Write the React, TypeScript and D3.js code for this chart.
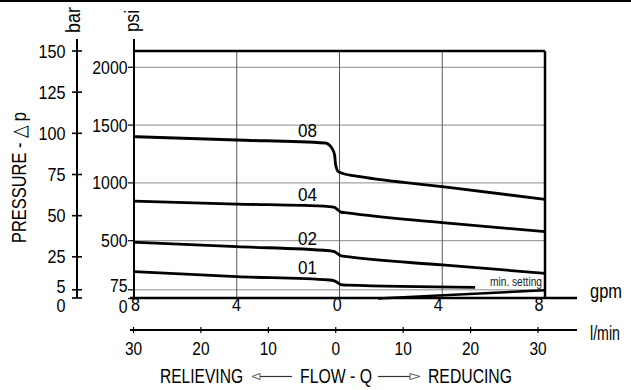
import React from "react";
import * as d3 from "d3";

const W = 631;
const H = 390;

const barTicks = [150, 125, 100, 75, 50, 25, 5, 0];
const psiTicks = [2000, 1500, 1000, 500, 75, 0];
const psiGrid = [2000, 1500, 1000, 500, 75];
const gpmTicks = [-8, -4, 0, 4, 8];
const gpmGrid = [-4, 0, 4];
const lpmTicks = [-30, -20, -10, 0, 10, 20, 30];

const seriesNames = ["08", "04", "02", "01"];
const curve08: [number, number][] = [
  [-8, 1400], [-4, 1371], [-0.56, 1345], [-0.3, 1302], [-0.19, 1241], [-0.16, 1172],
  [-0.12, 1129], [-0.06, 1099], [0.14, 1081], [0.8, 1054], [4, 967], [8, 858],
];
const curve04: [number, number][] = [
  [-8, 842], [-4, 817], [-0.4, 795], [-0.2, 788], [-0.08, 770], [0.05, 748], [0.3, 740],
  [4, 656], [8, 578],
];
const curve02: [number, number][] = [
  [-8, 486], [-4, 448], [-0.4, 413], [-0.2, 405], [-0.08, 388], [0.05, 370], [0.3, 362],
  [4, 290], [8, 218],
];
const curve01: [number, number][] = [
  [-8, 232], [-4, 189], [-0.4, 160], [-0.2, 153], [-0.08, 138], [0.05, 120], [0.3, 115],
  [5.28, 97],
];
const minSetting: [number, number][] = [[1.5, 0], [8, 72]];
const seriesData = [curve08, curve04, curve02, curve01];
const labelGpm = -1.25;

const FONT = "'Liberation Sans', Arial, sans-serif";

const xScale = d3.scaleLinear().domain([-8, 8]).range([134, 545]);
const xLabel = d3.scaleLinear().domain([-8, 8]).range([135.5, 539]);
const lpmScale = d3.scaleLinear().domain([-30, 30]).range([133.5, 538]);
const psiScale = d3.scaleLinear().domain([0, 2000]).range([298.5, 67.3]);
const barScale = d3.scaleLinear().domain([0, 150]).range([298, 51]);

function interp(pts: [number, number][], g: number) {
  for (let i = 0; i < pts.length - 1; i++) {
    const [x0, y0] = pts[i];
    const [x1, y1] = pts[i + 1];
    if (g >= x0 && g <= x1) return y0 + ((g - x0) / (x1 - x0)) * (y1 - y0);
  }
  return pts[pts.length - 1][1];
}

function T(props: {
  x: number; y: number; s: string; size?: number; w?: number; anchor?: string; fill?: string;
}) {
  const { x, y, s, size = 18.5, w, anchor = "middle", fill = "#000" } = props;
  return (
    <text
      x={x}
      y={y}
      fontSize={size}
      fontFamily={FONT}
      textAnchor={anchor}
      fill={fill}
      textLength={w}
      lengthAdjust={w ? "spacingAndGlyphs" : undefined}
    >
      {s}
    </text>
  );
}

function RT(props: { x: number; y: number; s: string; size?: number; w?: number }) {
  const { x, y, s, size = 20, w } = props;
  return (
    <g transform={`translate(${x},${y}) rotate(-90)`}>
      <text
        x={0}
        y={0}
        fontSize={size}
        fontFamily={FONT}
        textAnchor="middle"
        fill="#000"
        textLength={w}
        lengthAdjust={w ? "spacingAndGlyphs" : undefined}
      >
        {s}
      </text>
    </g>
  );
}

export default function App() {
  const line = d3
    .line<[number, number]>()
    .x((d) => xScale(d[0]))
    .y((d) => psiScale(d[1]))
    .curve(d3.curveMonotoneX);
  const straight = d3
    .line<[number, number]>()
    .x((d) => xScale(d[0]))
    .y((d) => psiScale(d[1]));

  const barLabelDy = (v: number) => (v === 0 ? 14 : v === 5 ? 3 : 6.5);
  const psiLabelDy = (v: number) => (v === 0 ? 14 : v === 75 ? 2 : 6.5);

  const x0 = xScale(-8);
  const x1 = xScale(8);
  const yTop = barScale(150);
  const yBot = barScale(0);
  const arrowY = 376.5;

  return (
    <svg
      width={W}
      height={H}
      viewBox={`0 0 ${W} ${H}`}
      style={{ position: "absolute", left: 0, top: 0, background: "#fff" }}
    >
      <rect x={0} y={0} width={W} height={H} fill="#fff" />
      <line x1={0} x2={W} y1={1} y2={1} stroke="#000" strokeWidth={2} />

      {/* grid */}
      {psiGrid.map((v) => (
        <line key={"hg" + v} x1={x0} x2={x1} y1={psiScale(v)} y2={psiScale(v)} stroke="#8a8a8a" strokeWidth={1} />
      ))}
      {gpmGrid.map((v) => (
        <line key={"vg" + v} x1={xScale(v)} x2={xScale(v)} y1={yTop} y2={yBot} stroke="#555" strokeWidth={1} />
      ))}

      {/* frame */}
      <line x1={x0} x2={x1} y1={yTop} y2={yTop} stroke="#000" strokeWidth={2.5} />
      <line x1={x1} x2={x1} y1={yTop} y2={yBot} stroke="#000" strokeWidth={2.5} />
      <line x1={x0} x2={x0} y1={39} y2={yBot} stroke="#000" strokeWidth={2} />
      <line x1={130} x2={577} y1={yBot} y2={yBot} stroke="#000" strokeWidth={2.5} />

      {/* psi axis */}
      {psiTicks.map((v) => (
        <g key={"pt" + v}>
          <line x1={x0 - 6} x2={x0} y1={psiScale(v)} y2={psiScale(v)} stroke="#000" strokeWidth={1.2} />
          <T x={127.5} y={psiScale(v) + psiLabelDy(v)} s={String(v)} anchor="end" w={String(v).length * 8.8} />
        </g>
      ))}
      <RT x={139} y={21} s="psi" w={22} />

      {/* bar axis */}
      <line x1={77} x2={77} y1={39} y2={yBot} stroke="#000" strokeWidth={2} />
      {barTicks.map((v) => (
        <g key={"bt" + v}>
          <line x1={72} x2={82} y1={barScale(v)} y2={barScale(v)} stroke="#000" strokeWidth={1.6} />
          <T x={65.5} y={barScale(v) + barLabelDy(v)} s={String(v)} anchor="end" w={String(v).length * 9} />
        </g>
      ))}
      <RT x={80} y={20} s="bar" w={26} />
      <RT x={25.5} y={177.5} s="PRESSURE - △ p" w={131} />

      {/* curves */}
      {seriesData.map((pts, i) => (
        <path key={"c" + i} d={line(pts) || ""} fill="none" stroke="#000" strokeWidth={2.8} strokeLinejoin="round" />
      ))}
      <path d={straight(minSetting) || ""} fill="none" stroke="#000" strokeWidth={2.5} />
      {seriesData.map((pts, i) => (
        <T
          key={"l" + i}
          x={xScale(labelGpm)}
          y={psiScale(interp(pts, labelGpm)) - 5}
          s={seriesNames[i]}
          w={19}
        />
      ))}
      <T x={542} y={286} s="min. setting" size={12} anchor="end" w={52} fill="#222" />

      {/* gpm labels */}
      {gpmTicks.map((v) => (
        <T key={"g" + v} x={xLabel(v)} y={311} s={String(Math.abs(v))} w={9} />
      ))}
      <T x={590} y={298} s="gpm" size={20} anchor="start" w={32} />

      {/* l/min axis */}
      <line x1={130} x2={577} y1={330} y2={330} stroke="#000" strokeWidth={2} />
      {lpmTicks.map((v) => (
        <g key={"lp" + v}>
          <line x1={lpmScale(v)} x2={lpmScale(v)} y1={327} y2={333} stroke="#000" strokeWidth={1.2} />
          <T x={lpmScale(v)} y={355} s={String(Math.abs(v))} w={String(Math.abs(v)).length * 8.6} />
        </g>
      ))}
      <T x={590} y={340} s="l/min" size={20} anchor="start" w={30} />

      {/* title */}
      <T x={160} y={383} s="RELIEVING" size={20} anchor="start" w={83} />
      <T x={300} y={383} s="FLOW - Q" size={20} anchor="start" w={72} />
      <T x={428} y={383} s="REDUCING" size={20} anchor="start" w={84} />
      <line x1={260} x2={292} y1={arrowY} y2={arrowY} stroke="#333" strokeWidth={1.2} />
      <path d={`M252,${arrowY} L260,${arrowY - 3} L260,${arrowY + 3} Z`} fill="#fff" stroke="#555" strokeWidth={1} />
      <line x1={378} x2={410} y1={arrowY} y2={arrowY} stroke="#333" strokeWidth={1.2} />
      <path d={`M420,${arrowY} L410,${arrowY - 3} L410,${arrowY + 3} Z`} fill="#fff" stroke="#555" strokeWidth={1} />
    </svg>
  );
}
